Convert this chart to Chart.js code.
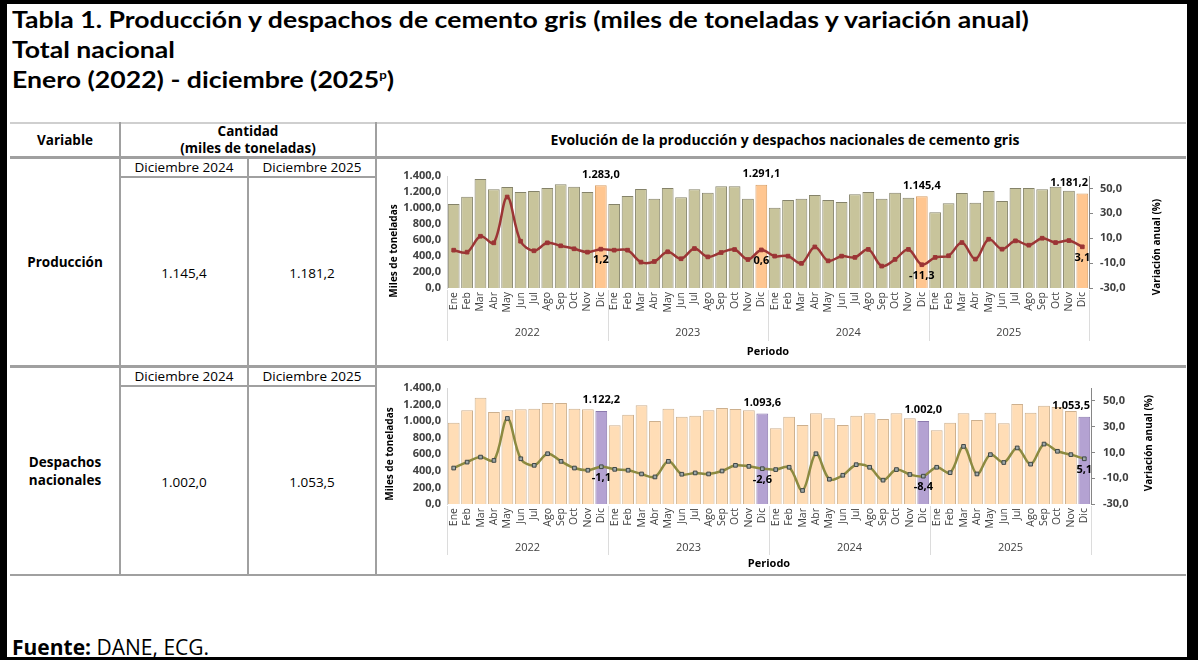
<!DOCTYPE html>
<html lang="es">
<head>
<meta charset="utf-8">
<title>Producción y despachos de cemento gris</title>
<script src="https://cdn.jsdelivr.net/npm/chart.js@4/dist/chart.umd.min.js"></script>
<style>
  html, body { margin: 0; padding: 0; background: #000; }
  #page { position: relative; width: 1198px; height: 660px; background: #000; overflow: hidden;
          font-family: "Open Sans", sans-serif; color: #000; }
  #sheet { position: absolute; left: 7px; top: 4px; width: 1180px; height: 653px; background: #fff; }
  .t { position: absolute; white-space: nowrap; }
  .title { left: 12px; font-family: Lato, sans-serif; font-weight: 700; font-size: 22px; line-height: 26px;
           transform: scaleX(1.21); transform-origin: left center; }
  .title sup { font-size: 11px; vertical-align: 9px; line-height: 0; }
  .cell { width: 220px; text-align: center; font-size: 13.5px; line-height: 18px; }
  .b { font-weight: 700; }
  .ln { position: absolute; background: #a0a0a0; }
  canvas { position: absolute; }
</style>
</head>
<body>
<div id="page">
  <div id="sheet"></div>

  <div class="t title" style="top:7px">Tabla 1. Producción y despachos de cemento gris (miles de toneladas y variación anual)</div>
  <div class="t title" style="top:37px">Total nacional</div>
  <div class="t title" style="top:67px">Enero (2022) - diciembre (2025<sup>p</sup>)</div>

  <!-- lineas de la tabla -->
  <div class="ln" style="left:10px;top:122px;width:1176px;height:2px;background:#cfcfcf"></div>
  <div class="ln" style="left:10px;top:156px;width:1176px;height:3px"></div>
  <div class="ln" style="left:10px;top:365px;width:1176px;height:3px"></div>
  <div class="ln" style="left:10px;top:574px;width:1176px;height:2px"></div>
  <div class="ln" style="left:119px;top:122px;width:2px;height:454px"></div>
  <div class="ln" style="left:375px;top:122px;width:2px;height:454px"></div>
  <div class="ln" style="left:247px;top:158px;width:2px;height:418px"></div>
  <div class="ln" style="left:120px;top:176px;width:256px;height:1.5px"></div>
  <div class="ln" style="left:120px;top:385px;width:256px;height:1.5px"></div>

  <!-- encabezados -->
  <div class="t cell b" style="left:-45px;top:131px">Variable</div>
  <div class="t cell b" style="left:138px;top:122px">Cantidad</div>
  <div class="t cell b" style="left:138px;top:139px">(miles de toneladas)</div>
  <div class="t cell b" style="left:535px;top:131px;width:500px;font-size:14px">Evolución de la producción y despachos nacionales de cemento gris</div>

  <div class="t cell" style="left:74px;top:158px">Diciembre 2024</div>
  <div class="t cell" style="left:202px;top:158px">Diciembre 2025</div>
  <div class="t cell b" style="left:-45px;top:253px">Producción</div>
  <div class="t cell" style="left:74px;top:264px">1.145,4</div>
  <div class="t cell" style="left:202px;top:264px">1.181,2</div>

  <div class="t cell" style="left:74px;top:367px">Diciembre 2024</div>
  <div class="t cell" style="left:202px;top:367px">Diciembre 2025</div>
  <div class="t cell b" style="left:-45px;top:453px">Despachos</div>
  <div class="t cell b" style="left:-45px;top:471px">nacionales</div>
  <div class="t cell" style="left:74px;top:473px">1.002,0</div>
  <div class="t cell" style="left:202px;top:473px">1.053,5</div>

  <div class="t" style="left:12px;top:633px;font-size:21px;line-height:28px"><b>Fuente:</b> DANE, ECG.</div>

  <canvas id="graficoProduccion" width="790" height="206" style="left:378px;top:159px"></canvas>
  <canvas id="graficoDespachos" width="790" height="206" style="left:378px;top:368px"></canvas>
</div>

<script>
const meses = ['Ene', 'Feb', 'Mar', 'Abr', 'May', 'Jun', 'Jul', 'Ago', 'Sep', 'Oct', 'Nov', 'Dic'];
const anios = ['2022', '2023', '2024', '2025'];
const periodos = anios.flatMap(() => meses);

// miles de toneladas
const produccion = [
  1050, 1142, 1363, 1233, 1263, 1200, 1213, 1250, 1296, 1267, 1200, 1283.0,
  1050, 1150, 1238, 1117, 1250, 1133, 1233, 1192, 1271, 1271, 1117, 1291.1,
  1004, 1100, 1117, 1163, 1100, 1075, 1171, 1200, 1117, 1192, 1129, 1145.4,
  946, 1058, 1188, 1067, 1213, 1088, 1250, 1250, 1233, 1267, 1217, 1181.2
];
// variacion anual (%)
const produccionVar = [
  0.4, -1.2, 11.6, 6.3, 43.1, 7.6, -0.1, 6.3, 3.9, 1.5, -1.2, 1.2,
  0.4, 0.4, -9.2, -8.7, -0.9, -6.5, 1.7, -5.0, -1.5, 0.9, -7.1, 0.6,
  -4.4, -4.4, -10.2, 3.0, -8.2, -4.4, -5.4, 1.0, -12.4, -7.0, 1.0, -11.3,
  -5.4, -4.1, 6.5, -6.8, 9.2, 1.2, 7.9, 4.4, 10.0, 6.5, 8.1, 3.1
];
const despachos = [
  982, 1131, 1283, 1110, 1131, 1143, 1151, 1219, 1219, 1151, 1143, 1122.2,
  950, 1078, 1191, 1002, 1151, 1054, 1066, 1131, 1159, 1147, 1131, 1093.6,
  914, 1054, 954, 1095, 1034, 954, 1066, 1095, 1026, 1095, 1034, 1002.0,
  890, 982, 1094, 1014, 1102, 974, 1207, 1102, 1187, 1170, 1123, 1053.5
];
const despachosVar = [
  -2.1, 2.5, 6.4, 3.8, 36.4, 5.1, 0.0, 9.0, 3.1, -2.1, -3.8, -1.1,
  -3.1, -3.8, -6.7, -9.0, 3.1, -6.9, -5.9, -6.7, -4.4, 0.0, -0.8, -2.6,
  -3.3, -1.5, -19.5, 9.0, -10.8, -7.7, 0.5, -1.5, -11.5, -3.3, -7.1, -8.4,
  -1.5, -5.7, 14.7, -6.7, 8.3, 2.2, 13.5, 0.9, 16.5, 10.9, 8.3, 5.1
];
const ticksVariacion = [-30, -10, 10, 30, 50];

// 1283 -> "1.283,0"
function fmt(v) {
  const partes = Math.abs(v).toFixed(1).split('.');
  const entero = partes[0].replace(/\B(?=(\d{3})+(?!\d))/g, '.');
  return (v < 0 ? '-' : '') + entero + ',' + partes[1];
}

const esDic = i => i % 12 === 11;

// años, separadores, etiquetas de diciembre y títulos verticales
const anotaciones = {
  id: 'anotaciones',
  afterDraw(chart, args, opts) {
    const { ctx, chartArea: area, scales: { x } } = chart;
    const paso = x.getPixelForValue(1) - x.getPixelForValue(0);
    ctx.save();

    ctx.strokeStyle = '#dcdcdc';
    ctx.lineWidth = 1;
    for (let k = 0; k <= anios.length; k++) {
      const px = Math.round(x.getPixelForValue(k * 12) - paso / 2) + 0.5;
      ctx.beginPath();
      ctx.moveTo(px, area.bottom + 2);
      ctx.lineTo(px, opts.sepBottom);
      ctx.stroke();
    }

    ctx.font = '11px "Open Sans"';
    ctx.fillStyle = '#404040';
    ctx.textAlign = 'center';
    ctx.textBaseline = 'middle';
    anios.forEach((a, k) => {
      const cx = (x.getPixelForValue(k * 12) + x.getPixelForValue(k * 12 + 11)) / 2;
      ctx.fillText(a, cx, opts.yearY);
    });

    ctx.font = 'bold 11px "Open Sans"';
    ctx.fillStyle = '#000';
    const linea = chart.getDatasetMeta(0);
    const barras = chart.getDatasetMeta(1);
    barras.data.forEach((bar, i) => {
      if (!esDic(i)) return;
      const txt = fmt(chart.data.datasets[1].data[i]);
      const w = ctx.measureText(txt).width;
      const bx = Math.min(bar.x, area.right - w / 2 - 1);
      ctx.fillText(txt, bx, bar.y - 11);
      const p = linea.data[i];
      ctx.fillText(fmt(chart.data.datasets[0].data[i]), p.x, p.y + 11);
    });

    ctx.font = 'bold 10px "Open Sans"';
    ctx.fillStyle = '#000';
    [[opts.leftTitle, 'Miles de toneladas'], [opts.rightTitle, 'Variación anual (%)']].forEach(([pos, txt]) => {
      ctx.save();
      ctx.translate(pos.x, pos.y);
      ctx.rotate(-Math.PI / 2);
      ctx.fillText(txt, 0, 0);
      ctx.restore();
    });
    ctx.restore();
  }
};

function crearGrafico(id, barrasDatos, lineaDatos, st) {
  const ctx = document.getElementById(id).getContext('2d');
  return new Chart(ctx, {
    type: 'bar',
    data: {
      labels: periodos,
      datasets: [{
        type: 'line',
        label: 'Variación anual (%)',
        data: lineaDatos,
        yAxisID: 'y1',
        order: 0,
        borderColor: st.linea,
        borderWidth: 2.5,
        tension: 0.35,
        pointStyle: 'rect',
        pointRadius: 2.6,
        pointBackgroundColor: st.punto,
        pointBorderColor: st.puntoBorde,
        pointBorderWidth: 1
      }, {
        label: 'Miles de toneladas',
        data: barrasDatos,
        yAxisID: 'y',
        order: 1,
        backgroundColor: barrasDatos.map((v, i) => esDic(i) ? st.dic : st.barra),
        borderColor: barrasDatos.map((v, i) => esDic(i) ? st.dicBorde : st.barraBorde),
        borderWidth: 1,
        categoryPercentage: 1,
        barPercentage: 0.88
      }]
    },
    options: {
      responsive: false,
      animation: false,
      layout: { padding: { top: st.padTop, left: 0, right: 0, bottom: 0 } },
      plugins: {
        legend: { display: false },
        tooltip: { enabled: false },
        anotaciones: st.anot
      },
      scales: {
        x: {
          grid: { display: false, drawTicks: false },
          border: { display: false },
          ticks: {
            autoSkip: false, minRotation: 90, maxRotation: 90, padding: 4,
            color: '#404040', font: { family: 'Open Sans', size: 10.5 }
          },
          title: {
            display: true, text: 'Periodo', color: '#000',
            font: { family: 'Open Sans', size: 11, weight: 'bold' },
            padding: { top: 0, bottom: st.periodoPad }
          },
          afterFit: s => { s.height = st.xAlto; }
        },
        y: {
          position: 'left',
          min: 0, max: 1400,
          grid: { display: false, drawTicks: false },
          border: { display: true, color: '#d6d6d6', width: 1 },
          ticks: {
            stepSize: 200, autoSkip: false, padding: 6, color: '#404040',
            font: { family: 'Open Sans', size: 11, weight: 'bold', lineHeight: 1 },
            callback: v => fmt(v)
          },
          afterFit: s => { s.width = 69; }
        },
        y1: {
          position: 'right',
          min: -30, max: 60,
          grid: { display: true, drawOnChartArea: false, drawTicks: true, tickLength: 4, color: '#868686' },
          border: { display: true, color: '#868686', width: 1 },
          afterBuildTicks: axis => { axis.ticks = ticksVariacion.map(value => ({ value })); },
          ticks: {
            autoSkip: false, padding: st.derPad, color: '#404040',
            font: { family: 'Open Sans', size: 11, weight: 'bold' },
            callback: v => fmt(v)
          },
          afterFit: s => { s.width = st.derAncho; }
        }
      }
    },
    plugins: [anotaciones]
  });
}

crearGrafico('graficoProduccion', produccion, produccionVar, {
  barra: '#C8C49B', barraBorde: '#85836A', dic: '#FFC690', dicBorde: '#D79E66',
  linea: '#9C3535', punto: '#9C3535', puntoBorde: '#9C3535',
  padTop: 17, xAlto: 77, periodoPad: 7, derAncho: 79, derPad: 7,
  anot: { yearY: 174, sepBottom: 182, leftTitle: { x: 16, y: 92 }, rightTitle: { x: 779, y: 88 } }
});

crearGrafico('graficoDespachos', despachos, despachosVar, {
  barra: '#FFDDB6', barraBorde: '#CDB08E', dic: '#B4A2D2', dicBorde: '#8C7AAE',
  linea: '#8C8A40', punto: '#9EA7A7', puntoBorde: '#3F4747',
  padTop: 20, xAlto: 70, periodoPad: 4, derAncho: 77, derPad: 8,
  anot: { yearY: 180, sepBottom: 187, leftTitle: { x: 12, y: 86 }, rightTitle: { x: 771, y: 75 } }
});
</script>
</body>
</html>
